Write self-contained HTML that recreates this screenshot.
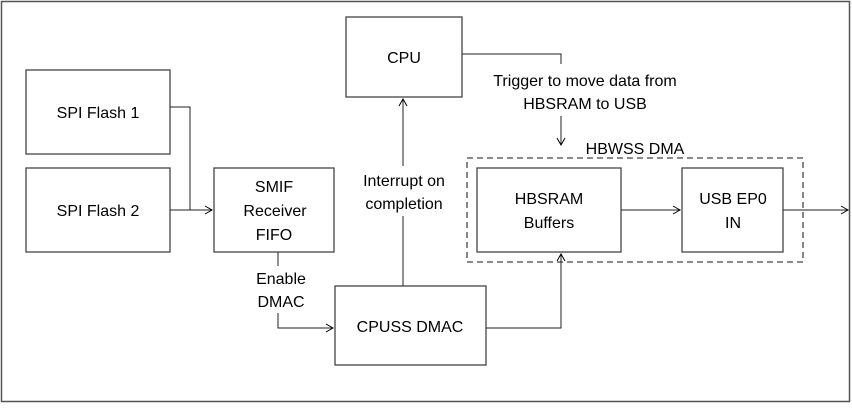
<!DOCTYPE html>
<html><head><style>
html,body{margin:0;padding:0;background:#fff;}
svg text{font-family:"Liberation Sans",sans-serif;font-size:16px;fill:#000;}
</style></head><body>
<svg width="852" height="403" viewBox="0 0 852 403" xmlns="http://www.w3.org/2000/svg">
<defs><marker id="a" markerWidth="10" markerHeight="10" refX="8" refY="5" orient="auto" markerUnits="userSpaceOnUse"><path d="M1,1 L8,5 L1,9" fill="none" stroke="#000" stroke-width="1"/></marker></defs>
<rect x="1.5" y="1.5" width="848" height="400" fill="#fff" stroke="#555" stroke-width="1.5"/>
<g fill="#fff" stroke="#444" stroke-width="1.3">
<rect x="26" y="70" width="144" height="84"/>
<rect x="26" y="168" width="144" height="84"/>
<rect x="214" y="168" width="120" height="84"/>
<rect x="346" y="17" width="116" height="80"/>
<rect x="335" y="286" width="151" height="79"/>
<rect x="477" y="168" width="144" height="84"/>
<rect x="682" y="168" width="101" height="84"/>
</g>
<rect x="467" y="158" width="336" height="104" fill="none" stroke="#444" stroke-width="1.3" stroke-dasharray="6,4"/>
<g fill="none" stroke="#222" stroke-width="1">
<polyline points="170,107 190,107 190,210"/>
<line x1="170" y1="210" x2="212" y2="210" marker-end="url(#a)"/>
<line x1="278" y1="252" x2="278" y2="266"/>
<polyline points="278,313 278,328 333,328" marker-end="url(#a)"/>
<line x1="403" y1="286" x2="403" y2="216"/>
<line x1="403" y1="166" x2="403" y2="99" marker-end="url(#a)"/>
<polyline points="462,54 561,54 561,64"/>
<line x1="561" y1="116" x2="561" y2="145" marker-end="url(#a)"/>
<polyline points="486,328 561,328 561,254" marker-end="url(#a)"/>
<line x1="621" y1="210" x2="680" y2="210" marker-end="url(#a)"/>
<line x1="783" y1="210" x2="848" y2="210" marker-end="url(#a)"/>
</g>
<g text-anchor="middle">
<text x="98" y="118">SPI Flash 1</text>
<text x="98" y="216">SPI Flash 2</text>
<text x="274" y="192">SMIF</text>
<text x="275" y="216">Receiver</text>
<text x="274" y="240">FIFO</text>
<text x="404" y="63">CPU</text>
<text x="404" y="186">Interrupt on</text>
<text x="404" y="209">completion</text>
<text x="281" y="284">Enable</text>
<text x="281" y="307">DMAC</text>
<text x="410" y="332">CPUSS DMAC</text>
<text x="585" y="86">Trigger to move data from</text>
<text x="585" y="109">HBSRAM to USB</text>
<text x="635" y="154">HBWSS DMA</text>
<text x="549" y="204">HBSRAM</text>
<text x="549" y="228">Buffers</text>
<text x="733" y="204">USB EP0</text>
<text x="733" y="228">IN</text>
</g>
</svg>
</body></html>
